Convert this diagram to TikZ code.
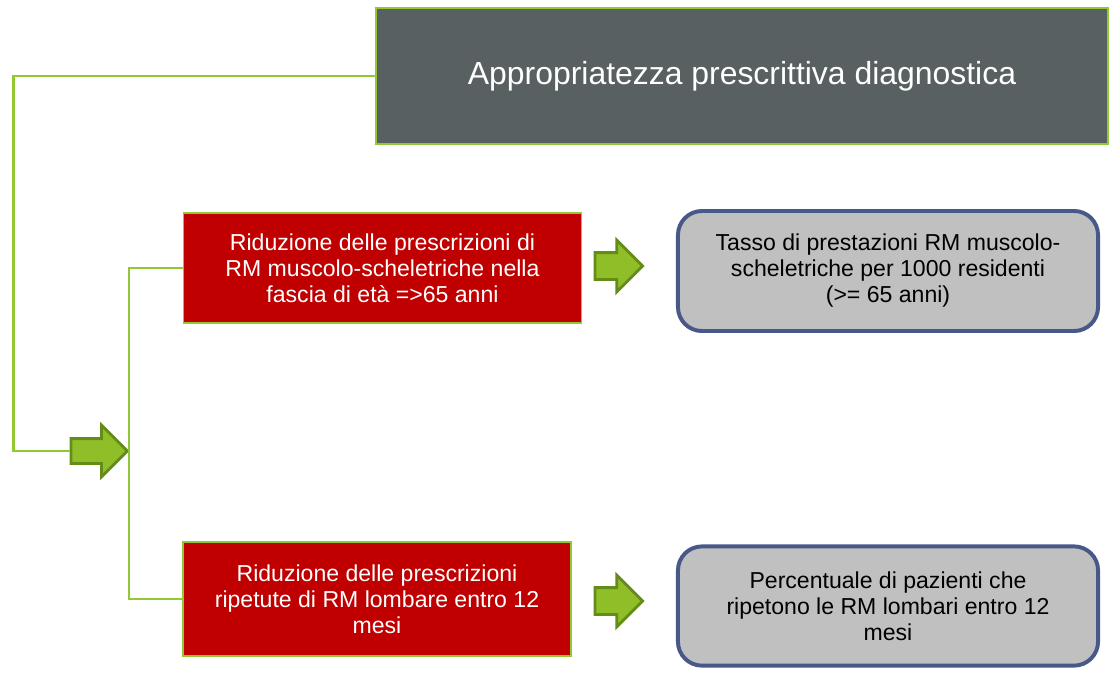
\documentclass[tikz,border=0pt]{standalone}
\usepackage{fontspec}
\setmainfont{Liberation Sans}
\usetikzlibrary{shapes.arrows}

\definecolor{linegreen}{RGB}{146,200,50}
\definecolor{titlegrey}{RGB}{89,96,98}
\definecolor{boxred}{RGB}{192,0,0}
\definecolor{boxgrey}{RGB}{192,192,192}
\definecolor{boxblue}{RGB}{72,88,136}
\definecolor{arrowfill}{RGB}{143,190,40}
\definecolor{arrowdraw}{RGB}{100,140,25}

\begin{document}
\begin{tikzpicture}[x=0.025cm, y=-0.025cm,
        link/.style={draw=linegreen, line width=1.6pt},
        goal/.style={rectangle, fill=boxred, draw=linegreen, line width=1pt,
            text=white, align=center, font=\fontsize{16.4}{18.5}\selectfont},
        measure/.style={rectangle, rounded corners=0.6cm, fill=boxgrey, draw=boxblue,
            line width=2.8pt, align=center, minimum width=10.5cm,
            font=\fontsize{16.4}{18.5}\selectfont},
        fatarrow/.style={single arrow, anchor=tail, fill=arrowfill, draw=arrowdraw,
            line width=2pt, inner xsep=0pt, minimum width=1.22cm}]
        \useasboundingbox (0, 0) rectangle (1109, 672);

        \node [rectangle, fill=titlegrey, draw=linegreen, line width=1pt, text=white,
            minimum width=18.3cm, minimum height=3.4cm,
            font=\fontsize{22.7}{27}\selectfont] (title) at (742, 76) {Appropriatezza prescrittiva diagnostica};

        \node [goal, minimum width=9.95cm, minimum height=2.75cm] (red1) at (382.5, 268)
            {Riduzione delle prescrizioni di\\RM muscolo-scheletriche nella\\fascia di età =>65 anni};
        \node [goal, minimum width=9.7cm, minimum height=2.85cm] (red2) at (377, 599)
            {Riduzione delle prescrizioni\\ripetute di RM lombare entro 12\\mesi};

        \node [measure, minimum height=3cm] (grey1) at (888, 271)
            {Tasso di prestazioni RM muscolo-\\scheletriche per 1000 residenti\\(>= 65 anni)};
        \node [measure, minimum height=2.98cm] (grey2) at (888, 606)
            {Percentuale di pazienti che\\ripetono le RM lombari entro 12\\mesi};

        \node [fatarrow, inner ysep=0.275cm, single arrow head extend=0.335cm,
            minimum height=1.41cm] (bigarr) at (69.5, 451) {};
        \node [fatarrow, inner ysep=0.3cm, single arrow head extend=0.31cm,
            minimum height=1.19cm] (arr1) at (593.5, 266) {};
        \node [fatarrow, inner ysep=0.3cm, single arrow head extend=0.31cm,
            minimum height=1.19cm] (arr2) at (593.5, 601) {};

        \coordinate (corner) at (13.5, 76);
        \draw [link] (title.west) -- (corner) |- (bigarr.tail);
        \draw [link] (red1.west) -| (bigarr.tip) |- (red2.west);
    \end{tikzpicture}
\end{document}
